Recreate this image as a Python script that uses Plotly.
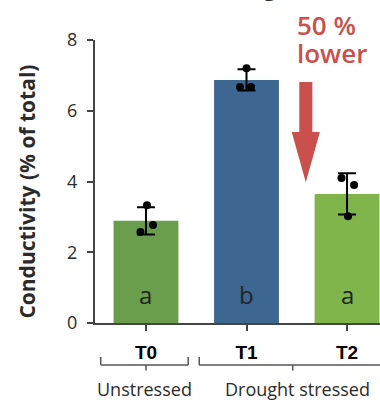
import plotly.graph_objects as go

# ---- data ----
categories = ["T0", "T1", "T2"]
means = [2.89, 6.87, 3.65]
errors = [0.385, 0.30, 0.58]
replicates = [[3.33, 2.57, 2.77], [7.20, 6.67, 6.67], [4.10, 3.90, 3.02]]
letters = ["a", "b", "a"]
groups = ["Unstressed", "Drought stressed"]
y_ticks = [0, 2, 4, 6, 8]

# ---- style ----
bar_colors = ["#6a9e4c", "#3d6791", "#7fb54b"]
red = "#c9504c"
dark = "#2b2b2b"
jitter = [[0.01, -0.055, 0.07], [0.0, -0.065, 0.045], [-0.055, 0.07, 0.01]]
xs = list(range(len(categories)))

fig = go.Figure()
fig.add_trace(go.Bar(
    x=xs, y=means, width=0.645, marker=dict(color=bar_colors, line=dict(width=0)),
    error_y=dict(type="data", array=errors, color="black", thickness=2, width=9),
    showlegend=False, hoverinfo="skip"))

px_, py_ = [], []
for i, reps in enumerate(replicates):
    for j, v in enumerate(reps):
        px_.append(xs[i] + jitter[i][j])
        py_.append(v)
fig.add_trace(go.Scatter(x=px_, y=py_, mode="markers",
                         marker=dict(color="black", size=8), showlegend=False))

annotations = []
for i, t in enumerate(letters):
    annotations.append(dict(x=xs[i], y=0.8, xref="x", yref="y", text=t, showarrow=False,
                            font=dict(family="Open Sans", size=24, color="#222222", weight=500)))

# group labels
annotations.append(dict(x=-0.015, y=-0.233, xref="x", yref="paper", text=groups[0], showarrow=False,
                        yanchor="middle", font=dict(family="Open Sans", size=18, color=dark)))
annotations.append(dict(x=1.51, y=-0.233, xref="x", yref="paper", text=groups[1], showarrow=False,
                        yanchor="middle", font=dict(family="Open Sans", size=18, color=dark)))

# y title
annotations.append(dict(x=-0.24, y=0.463, xref="paper", yref="paper", text="<b>Conductivity (% of total)</b>",
                        textangle=-90, showarrow=False, xanchor="center", yanchor="middle",
                        font=dict(family="Open Sans", size=21, color=dark)))

# red text
annotations.append(dict(x=0.70, y=1.052, xref="paper", yref="paper", text="50 %", showarrow=False,
                        xanchor="left", yanchor="middle",
                        font=dict(family="Open Sans", size=26, color=red, weight=600)))
annotations.append(dict(x=0.70, y=0.953, xref="paper", yref="paper", text="lower", showarrow=False,
                        xanchor="left", yanchor="middle",
                        font=dict(family="Open Sans", size=26, color=red, weight=600)))
# cut-off title fragment
annotations.append(dict(x=0.615, y=1.127, xref="paper", yref="paper", text="<b>g</b>", showarrow=False,
                        yanchor="bottom", font=dict(family="Open Sans", size=22, color=dark)))

shapes = []
# arrow
ax0 = 1.59
hw, hh = 0.065, 0.14
shapes.append(dict(type="path", xref="x", yref="y", fillcolor=red, line=dict(width=0),
                   path=f"M {ax0-hw},6.81 L {ax0+hw},6.81 L {ax0+hw},5.4 L {ax0+hh},5.4 "
                        f"L {ax0},3.98 L {ax0-hh},5.4 L {ax0-hw},5.4 Z"))
# brackets
bl = dict(color="#555555", width=1.5)
def bracket(x0, x1, xm):
    return [
        dict(type="line", xref="x", yref="paper", x0=x0, x1=x1, y0=-0.148, y1=-0.148, line=bl),
        dict(type="line", xref="x", yref="paper", x0=x0, x1=x0, y0=-0.148, y1=-0.120, line=bl),
        dict(type="line", xref="x", yref="paper", x0=x1, x1=x1, y0=-0.148, y1=-0.120, line=bl),
        dict(type="line", xref="x", yref="paper", x0=xm, x1=xm, y0=-0.148, y1=-0.168, line=bl),
    ]
shapes += bracket(-0.45, 0.42, 0.0)
shapes += bracket(0.53, 2.45, 1.46)

fig.update_layout(
    width=380, height=400,
    margin=dict(l=95, r=0, t=40, b=77),
    plot_bgcolor="white", paper_bgcolor="white",
    annotations=annotations, shapes=shapes,
    xaxis=dict(range=[-0.507, 2.328], tickvals=xs, ticktext=[f"<b>{c}</b>" for c in categories],
               showline=True, linecolor="#444444", linewidth=2, ticks="outside", ticklen=6,
               tickwidth=1.5, tickcolor="#444444", showgrid=False, zeroline=False,
               ticklabelstandoff=5,
               tickfont=dict(family="Liberation Sans", size=19, color="black")),
    yaxis=dict(range=[0, 8], tickvals=y_ticks, showline=True, linecolor="#444444", linewidth=2,
               ticks="outside", ticklen=6, tickwidth=1.5, tickcolor="#444444",
               showgrid=False, zeroline=False, ticklabelstandoff=6,
               tickfont=dict(family="Open Sans", size=18, color=dark)),
)
fig.write_html("out.html", config={"displayModeBar": False},
               post_script="document.body.style.margin='0';")
